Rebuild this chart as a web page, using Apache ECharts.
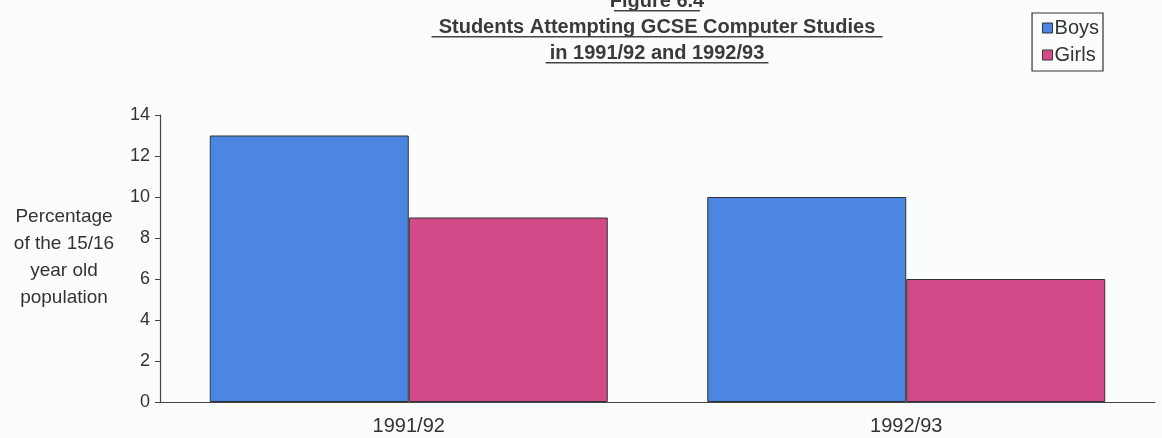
<!DOCTYPE html>
<html>
<head>
<meta charset="utf-8">
<script src="https://cdn.jsdelivr.net/npm/echarts@6/dist/echarts.min.js"></script>
<style>
    html, body { margin: 0; padding: 0; background: #fbfdfd; }
    #chart { width: 1162px; height: 438px; }
</style>
</head>
<body>
<div id="chart"></div>
<script>
var years = ['1991/92', '1992/93'];
var boys = [13, 10];
var girls = [9, 6];
var yTicks = [0, 2, 4, 6, 8, 10, 12, 14];

var chart = echarts.init(document.getElementById('chart'));
var font = 'Arial, "Liberation Sans", sans-serif';

// titles drawn as graphic text, underlined by hand
function titleLine(text, cy, w) {
    return [{
        type: 'text', x: 657, y: cy,
        style: { text: text, font: 'bold 20px ' + font, fill: '#3a3a3a', align: 'center', verticalAlign: 'middle' }
    }, {
        type: 'rect', x: 657 - w / 2, y: cy + 9,
        shape: { width: w, height: 1.5 },
        style: { fill: '#444' }
    }];
}

var option = {
    backgroundColor: '#fbfdfd',
    animation: false,
    grid: { left: 160, right: 7, top: 115, bottom: 36 },
    legend: {
        right: 59, top: 13,
        orient: 'vertical',
        itemWidth: 10, itemHeight: 10, itemGap: 7,
        padding: [5, 4, 6, 10],
        borderColor: '#333', borderWidth: 1.2,
        textStyle: { fontFamily: font, fontSize: 20, color: '#333', padding: [0, 0, 0, -3] },
        data: [
            { name: 'Boys', icon: 'rect', itemStyle: { borderColor: '#333', borderWidth: 1 } },
            { name: 'Girls', icon: 'rect', itemStyle: { borderColor: '#333', borderWidth: 1 } }
        ]
    },
    graphic: [].concat(
        titleLine('Figure 6.4', 1, 86),
        titleLine('Students Attempting GCSE Computer Studies', 27, 451),
        titleLine('in 1991/92 and 1992/93', 53, 223),
        [{
            type: 'text', x: 64, y: 203,
            style: {
                text: 'Percentage\nof the 15/16\nyear old\npopulation',
                font: '19px ' + font, fill: '#333', align: 'center', lineHeight: 27
            }
        }]
    ),
    xAxis: {
        type: 'category',
        data: years,
        axisLine: { lineStyle: { color: '#444', width: 1.2 } },
        axisTick: { length: 6, lineStyle: { color: '#444' } },
        axisLabel: { fontFamily: font, fontSize: 20, color: '#333', margin: 14 }
    },
    yAxis: {
        type: 'value',
        min: yTicks[0], max: yTicks[yTicks.length - 1], interval: 2,
        splitLine: { show: false },
        axisLine: { show: true, lineStyle: { color: '#444', width: 1.2 } },
        axisTick: { show: true, length: 5, lineStyle: { color: '#444' } },
        axisLabel: { fontFamily: font, fontSize: 18, color: '#333', margin: 10 }
    },
    series: [{
        name: 'Boys', type: 'bar', data: boys,
        barGap: '0%', barCategoryGap: '20%',
        itemStyle: { color: '#4a86e2', borderColor: '#333', borderWidth: 1 }
    }, {
        name: 'Girls', type: 'bar', data: girls,
        itemStyle: { color: '#d24a88', borderColor: '#333', borderWidth: 1 }
    }]
};
chart.setOption(option);
</script>
</body>
</html>
